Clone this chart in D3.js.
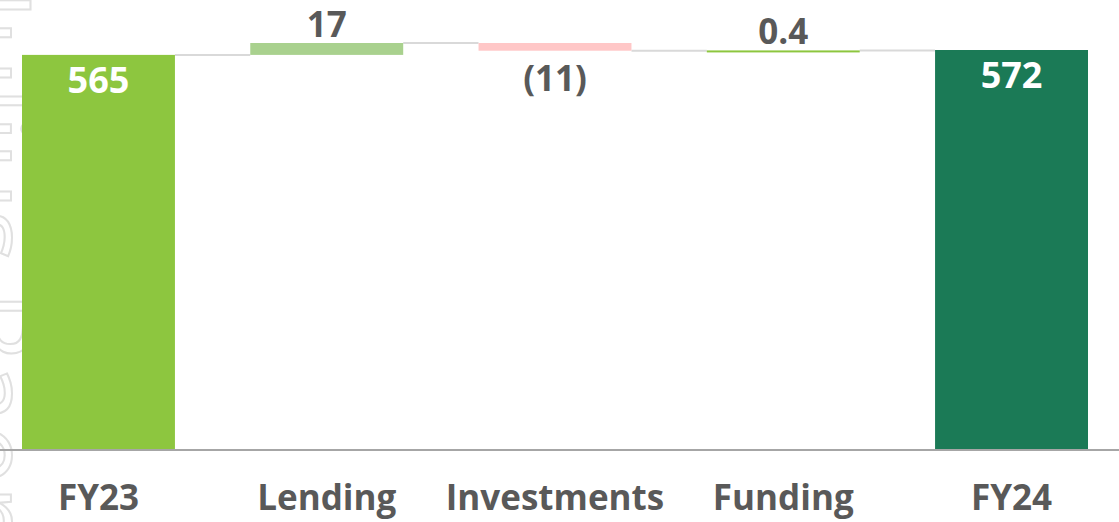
<!DOCTYPE html>
<meta charset="utf-8">
<style>
  body { margin: 0; background: #fff; }
  .cat { font: 700 35px "Open Sans"; fill: #595959; }
  .val { font: 700 35px "Open Sans"; fill: #595959; }
  .tot { font: 700 36px "Open Sans"; fill: #fff; }
  .mark { font: 400 110px "Open Sans"; fill: none; stroke: #e0e0e0; stroke-width: 2; }
</style>
<body>
<script src="https://d3js.org/d3.v7.min.js"></script>
<div id="chart"></div>
<script>

// waterfall data
var categories = ["FY23", "Lending", "Investments", "Funding", "FY24"];
var values     = [565, 17, -11, 0.4, 572];
var isTotal    = [true, false, false, false, true];
var labels     = ["565", "17", "(11)", "0.4", "572"];
var barColors  = ["#8dc63f", "#a9d18e", "#ffc7c7", "#8dc63f", "#1b7a56"];

var width = 1119, height = 522;
var baseY = 450;

var svg = d3.select("#chart").append("svg")
    .attr("width", width)
    .attr("height", height);

// faint watermark on the left edge
svg.append("text")
    .attr("class", "mark")
    .attr("transform", "translate(-48,-10) rotate(90)")
    .text("Julius Baer");

var x = d3.scaleBand()
    .domain(categories)
    .range([22, 1088])
    .paddingInner(0.33)
    .paddingOuter(0);

var y = d3.scaleLinear()
    .domain([0, 572])
    .range([baseY, 50]);

// running start / end for each step
var rows = [];
var run = 0;
categories.forEach(function(c, i) {
  var start, end;
  if (isTotal[i]) { start = 0; end = values[i]; run = values[i]; }
  else { start = run; end = run + values[i]; run = end; }
  rows.push({cat: c, v: values[i], start: start, end: end, total: isTotal[i], label: labels[i], color: barColors[i]});
});

// connectors
var conn = svg.append("g");
for (var i = 0; i < rows.length - 1; i++) {
  conn.append("line")
      .attr("x1", x(rows[i].cat) + x.bandwidth())
      .attr("x2", x(rows[i + 1].cat))
      .attr("y1", y(rows[i].end))
      .attr("y2", y(rows[i].end))
      .attr("stroke", "#d9d9d9")
      .attr("stroke-width", 2);
}

// bars
svg.append("g").selectAll("rect")
    .data(rows)
  .enter().append("rect")
    .attr("x", function(d) { return x(d.cat); })
    .attr("width", x.bandwidth())
    .attr("y", function(d) { return y(Math.max(d.start, d.end)); })
    .attr("height", function(d) { return Math.max(2, Math.abs(y(d.start) - y(d.end))); })
    .attr("fill", function(d) { return d.color; });

// axis line
svg.append("line")
    .attr("x1", 0).attr("x2", width)
    .attr("y1", baseY).attr("y2", baseY)
    .attr("stroke", "#a6a6a6")
    .attr("stroke-width", 2);

// value labels
svg.append("g").selectAll("text")
    .data(rows)
  .enter().append("text")
    .attr("class", function(d) { return d.total ? "tot" : "val"; })
    .attr("text-anchor", "middle")
    .attr("x", function(d) { return x(d.cat) + x.bandwidth() / 2; })
    .attr("y", function(d) {
      if (d.total) return y(d.end) + 38;
      if (d.v < 0) return y(d.end) + 40;
      return y(d.end) - 6;
    })
    .text(function(d) { return d.label; });

// category labels
svg.append("g").selectAll("text")
    .data(rows)
  .enter().append("text")
    .attr("class", "cat")
    .attr("text-anchor", "middle")
    .attr("x", function(d) { return x(d.cat) + x.bandwidth() / 2; })
    .attr("y", 510)
    .text(function(d) { return d.cat; });

</script>
</body>
</html>
